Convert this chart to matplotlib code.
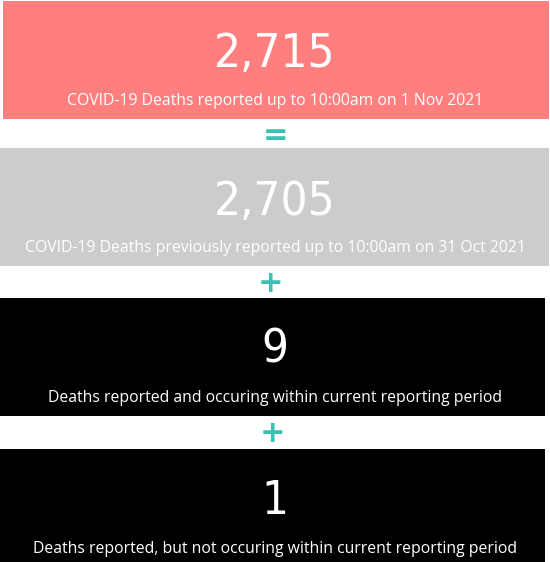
import matplotlib.pyplot as plt
from matplotlib.patches import Rectangle

values = [2715, 2705, 9, 1]
labels = ["COVID-19 Deaths reported up to 10:00am on 1 Nov 2021",
          "COVID-19 Deaths previously reported up to 10:00am on 31 Oct 2021",
          "Deaths reported and occuring within current reporting period",
          "Deaths reported, but not occuring within current reporting period"]
operators = ["=", "+", "+"]

FILLS = ["#FF7F7F", "#CCCCCC", "#000000", "#000000"]
TEAL = "#3CC0B4"
# box extents in pixels: (x0, x1, y0, y1)
BOXES = [(3, 549, 1, 119), (0, 549, 148, 266), (0, 545, 298, 416), (0, 545, 449, 562)]
NUM_Y = [55, 203, 350, 501]
LAB_Y = [101, 248, 398, 549]
OP_Y = [135, 284, 434]
OP_X = [276, 271, 273]

fig = plt.figure(figsize=(5.5, 5.62), dpi=100)
ax = fig.add_axes([0, 0, 1, 1])
ax.set_xlim(0, 550); ax.set_ylim(562, 0); ax.axis("off")

for i, v in enumerate(values):
    x0, x1, y0, y1 = BOXES[i]
    ax.add_patch(Rectangle((x0, y0), x1 - x0, y1 - y0, color=FILLS[i], lw=0))
    ax.text(275, NUM_Y[i], f"{v:,}", ha="center", va="center", color="white",
            fontsize=34, family="DejaVu Sans", fontstretch="condensed")
    ax.text(275, LAB_Y[i], labels[i], ha="center", va="center", color="white",
            fontsize=11.3, family="Open Sans")

for op, x, y in zip(operators, OP_X, OP_Y):
    ax.text(x, y, op, ha="center", va="center", color=TEAL, fontsize=22,
            fontweight="bold", family="DejaVu Sans")

fig.savefig("out.png", dpi=100)
